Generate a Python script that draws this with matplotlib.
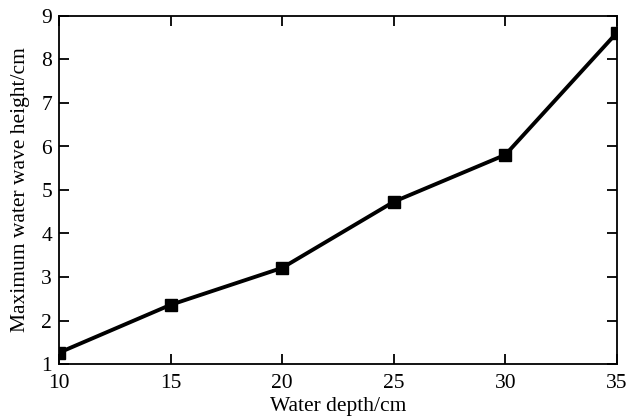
import matplotlib
matplotlib.use("Agg")
import matplotlib.pyplot as plt

# water depth vs. maximum wave height
depth = [10, 15, 20, 25, 30, 35]
wave_height = [1.26, 2.36, 3.21, 4.73, 5.81, 8.62]

plt.rcParams['font.family'] = ['Liberation Serif', 'DejaVu Serif']

fig = plt.figure(figsize=(6.38, 4.19), dpi=100)
ax = fig.add_axes([59 / 638, 1 - 364 / 419, (617 - 59) / 638, (364 - 16) / 419])

ax.plot(depth, wave_height, color='black', linewidth=2.8,
        marker='s', markersize=8, markerfacecolor='black')

ax.set_xlim(10, 35)
ax.set_ylim(1, 9)
ax.set_xticks([10, 15, 20, 25, 30, 35])
ax.set_yticks(range(1, 10))
ax.tick_params(direction='in', top=True, right=True, length=7, width=1.3,
               labelsize=15.5)
ax.tick_params(axis='x', pad=7)
ax.tick_params(axis='y', pad=5)
for s in ax.spines.values():
    s.set_linewidth(1.3)

ax.set_xlabel('Water depth/cm', fontsize=15.5, labelpad=3)
ax.set_ylabel('Maximum water wave height/cm', fontsize=15.5, labelpad=8)

fig.savefig('out.png', dpi=100)
